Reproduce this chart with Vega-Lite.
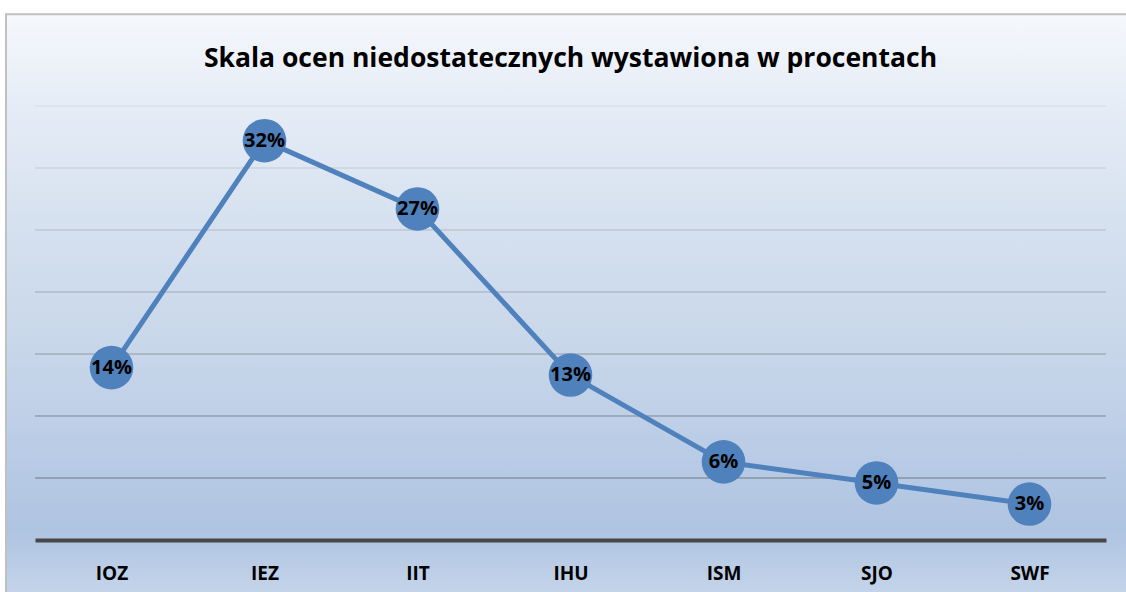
{
  "$schema": "https://vega.github.io/schema/vega-lite/v6.json",
  "width": 1071,
  "height": 434,
  "autosize": {"type": "none"},
  "padding": {"left": 35, "top": 106, "right": 20, "bottom": 52},
  "background": "white",
  "config": {"view": {"stroke": null}, "font": "Open Sans"},
  "title": {
    "text": "Skala ocen niedostatecznych wystawiona w procentach",
    "font": "Open Sans",
    "fontWeight": "bold",
    "fontSize": 26.5,
    "color": "black",
    "anchor": "middle",
    "baseline": "alphabetic",
    "offset": -80
  },
  "resolve": {"scale": {"x": "independent", "y": "independent"}},
  "layer": [
    {
      "data": {"values": [{}]},
      "mark": {
        "type": "rect",
        "stroke": "#c0c0c0",
        "strokeWidth": 2,
        "fill": {
          "gradient": "linear",
          "x1": 0, "y1": 0, "x2": 0, "y2": 1,
          "stops": [
            {"offset": 0, "color": "#f5f8fc"},
            {"offset": 0.16, "color": "#e5ecf6"},
            {"offset": 0.4, "color": "#d3dfee"},
            {"offset": 0.6, "color": "#c6d5e9"},
            {"offset": 0.75, "color": "#bacce6"},
            {"offset": 0.89, "color": "#afc4e1"},
            {"offset": 1, "color": "#c4d4ea"}
          ]
        }
      },
      "encoding": {
        "x": {"datum": -0.0271, "type": "quantitative", "scale": {"domain": [0, 1], "nice": false, "zero": false}, "axis": null},
        "x2": {"datum": 1.0205},
        "y": {"datum": 1.2113, "type": "quantitative", "scale": {"domain": [0, 1], "nice": false, "zero": false}, "axis": null},
        "y2": {"datum": -0.1244}
      }
    },
    {
      "data": {
        "values": [
          {"k": "IOZ", "v": 0.139},
          {"k": "IEZ", "v": 0.322},
          {"k": "IIT", "v": 0.267},
          {"k": "IHU", "v": 0.133},
          {"k": "ISM", "v": 0.063},
          {"k": "SJO", "v": 0.046},
          {"k": "SWF", "v": 0.029}
        ]
      },
      "layer": [
        {
          "data": {"values": [{"g": 0.05}, {"g": 0.1}, {"g": 0.15}, {"g": 0.2}, {"g": 0.25}, {"g": 0.3}, {"g": 0.35}]},
          "mark": {"type": "rule", "strokeWidth": 1.2},
          "encoding": {
            "y": {"field": "g", "type": "quantitative", "scale": {"domain": [0, 0.35], "nice": false}, "axis": null},
            "color": {"field": "g", "type": "quantitative", "scale": {"domain": [0.05, 0.35], "range": ["#6e7884", "#d6dae1"]}, "legend": null}
          }
        },
        {
          "mark": {"type": "line", "color": "#4f81bd", "strokeWidth": 5},
          "encoding": {
            "x": {"field": "k", "type": "nominal", "sort": null, "scale": {"paddingInner": 0, "paddingOuter": 0},
              "axis": {"title": null, "domainColor": "#474747", "domainWidth": 4, "ticks": false, "grid": false,
                "labelFont": "Open Sans", "labelFontWeight": "bold", "labelFontSize": 19, "labelColor": "black",
                "labelPadding": 24, "labelAngle": 0, "zindex": 1}},
            "y": {"field": "v", "type": "quantitative", "scale": {"domain": [0, 0.35], "nice": false}, "axis": null}
          }
        },
        {
          "mark": {"type": "circle", "size": 1900, "color": "#4f81bd", "opacity": 1},
          "encoding": {
            "x": {"field": "k", "type": "nominal", "sort": null},
            "y": {"field": "v", "type": "quantitative"}
          }
        },
        {
          "mark": {"type": "text", "font": "Open Sans", "fontWeight": "bold", "fontSize": 20, "color": "black", "align": "center", "baseline": "middle"},
          "encoding": {
            "x": {"field": "k", "type": "nominal", "sort": null},
            "y": {"field": "v", "type": "quantitative"},
            "text": {"field": "v", "type": "quantitative", "format": ".0%"}
          }
        }
      ]
    }
  ]
}
